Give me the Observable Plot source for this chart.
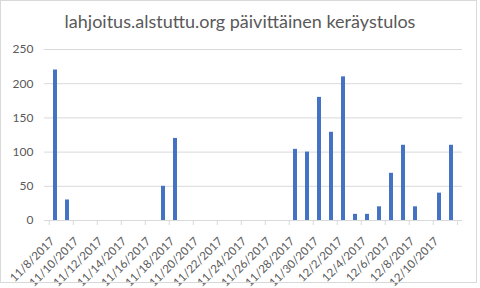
<!DOCTYPE html>
<html>
<head>
<meta charset="utf-8">
<script src="https://cdn.jsdelivr.net/npm/d3@7"></script>
<script src="https://cdn.jsdelivr.net/npm/@observablehq/plot@0.6"></script>
<style>
  html, body { margin: 0; padding: 0; background: #fff; }
  #wrap { position: relative; width: 480px; height: 288px; overflow: hidden; font-family: Lato, "Open Sans", sans-serif; }
  #frame { position: absolute; left: 0; top: 0; width: 475px; height: 281px; border: 1px solid #d9d9d9; pointer-events: none; }
  #title { height: 28px; padding-top: 10px; line-height: 22px; font-size: 18px; color: #595959; text-align: center; white-space: nowrap; }
  #chart svg { display: block; }
</style>
</head>
<body>
<div id="wrap">
  <div id="frame"></div>
  <div id="title"></div>
  <div id="chart"></div>
</div>
<script>
const titleText = "lahjoitus.alstuttu.org päivittäinen keräystulos";

const dates = [
  "11/8/2017", "11/9/2017", "11/10/2017", "11/11/2017", "11/12/2017", "11/13/2017",
  "11/14/2017", "11/15/2017", "11/16/2017", "11/17/2017", "11/18/2017", "11/19/2017",
  "11/20/2017", "11/21/2017", "11/22/2017", "11/23/2017", "11/24/2017", "11/25/2017",
  "11/26/2017", "11/27/2017", "11/28/2017", "11/29/2017", "11/30/2017", "12/1/2017",
  "12/2/2017", "12/3/2017", "12/4/2017", "12/5/2017", "12/6/2017", "12/7/2017",
  "12/8/2017", "12/9/2017", "12/10/2017", "12/11/2017"
];

const values = [
  220, 30, 0, 0, 0, 0,
  0, 0, 0, 50, 120, 0,
  0, 0, 0, 0, 0, 0,
  0, 0, 104, 100, 180, 129,
  210, 9, 9, 20, 69, 110,
  20, 0, 40, 110
];

const yTicks = [0, 50, 100, 150, 200, 250];

// labelled dates: every second day
const labelDates = dates.filter((d, i) => i % 2 === 0);

const data = dates.map((d, i) => ({date: d, value: values[i]}));

document.getElementById("title").textContent = titleText;

const W = 480, H = 250;
const mL = 44, mR = 18, mT = 11, mB = 68;
const step = (W - mL - mR) / dates.length;

const chart = Plot.plot({
  width: W,
  height: H,
  marginLeft: mL,
  marginRight: mR,
  marginTop: mT,
  marginBottom: mB,
  style: {fontFamily: "Lato, 'Open Sans', sans-serif", fontSize: "12px", color: "#595959", background: "transparent", overflow: "visible"},
  x: {type: "band", domain: dates, paddingInner: 0.68, paddingOuter: 0.34, label: null},
  y: {domain: [0, 250], label: null},
  marks: [
    Plot.gridY(yTicks.filter(v => v > 0), {stroke: "#d9d9d9", strokeOpacity: 1}),
    Plot.ruleY([0], {stroke: "#d9d9d9"}),
    Plot.barY(data, {x: "date", y: "value", fill: "#4472c4"}),
    Plot.axisY(yTicks, {tickSize: 0, tickPadding: 11, fill: "#595959", fontSize: 12, label: null}),
    Plot.axisX(labelDates, {tickSize: 0, tickPadding: 19, dx: -3, tickRotate: -45, fill: "#595959", fontSize: 11.5, label: null}),
    Plot.axisX(labelDates, {tickSize: 5, dx: -step / 2, stroke: "#d9d9d9", tickFormat: () => "", label: null}),
    Plot.axisX([dates[dates.length - 1]], {tickSize: 5, dx: step / 2, stroke: "#d9d9d9", tickFormat: () => "", label: null})
  ]
});

document.getElementById("chart").appendChild(chart);
</script>
</body>
</html>
